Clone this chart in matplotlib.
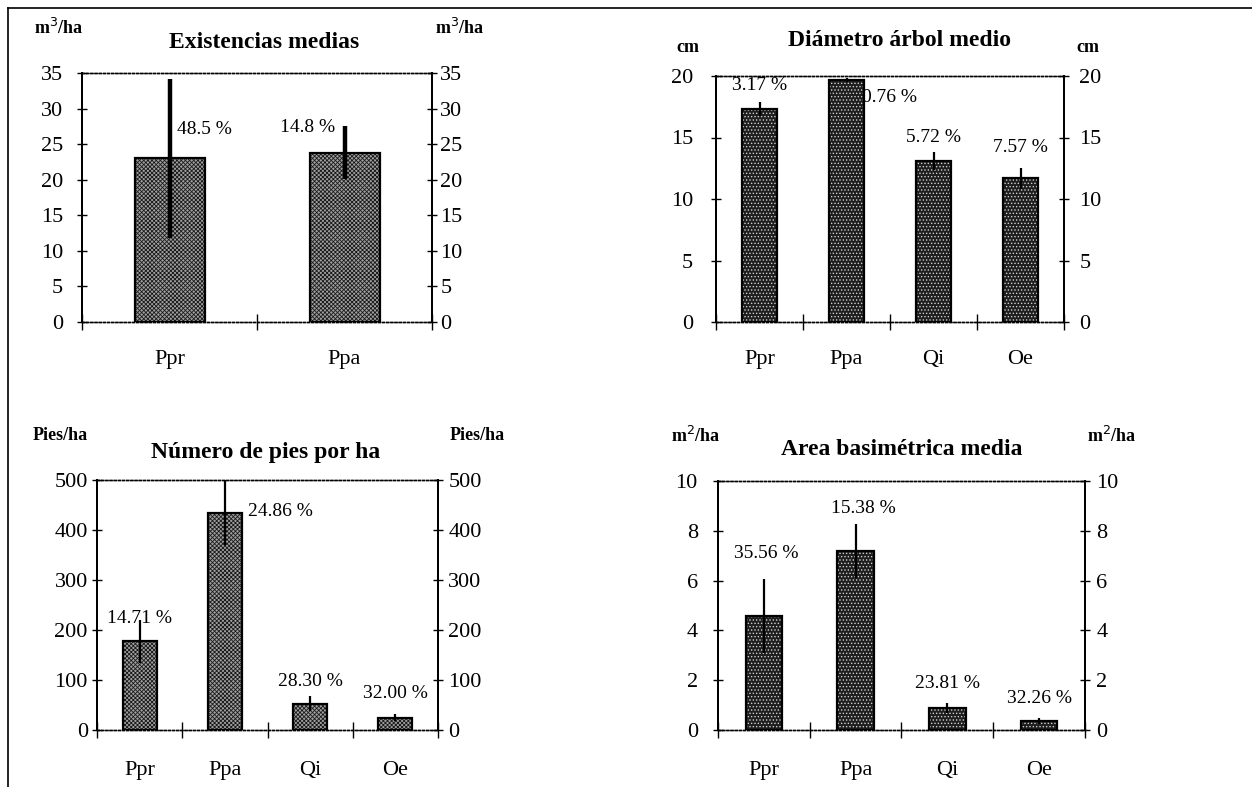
import matplotlib
matplotlib.use("Agg")
import matplotlib.pyplot as plt
from matplotlib.lines import Line2D
import numpy as np

plt.rcParams['font.family'] = ['Liberation Serif', 'DejaVu Serif']
plt.rcParams['hatch.linewidth'] = 0.6

# --- datos ---
esp2 = ['Ppr', 'Ppa']
esp4 = ['Ppr', 'Ppa', 'Qi', 'Oe']

exist = [23.0, 23.8]
exist_err = [11.2, 3.7]
exist_pct = ['48.5 %', '14.8 %']

diam = [17.3, 19.7, 13.1, 11.7]
diam_err = [0.55, 0.15, 0.75, 0.85]
diam_pct = ['3.17 %', '0.76 %', '5.72 %', '7.57 %']

pies = [178, 435, 53, 25]
pies_err = [43, 65, 15, 7]
pies_pct = ['14.71 %', '24.86 %', '28.30 %', '32.00 %']

area = [4.58, 7.19, 0.87, 0.36]
area_err = [1.5, 1.07, 0.2, 0.11]
area_pct = ['35.56 %', '15.38 %', '23.81 %', '32.26 %']

W, H = 1252, 787
fig = plt.figure(figsize=(W / 100, H / 100), dpi=100)


def px_axes(l, t, r, b):
    return fig.add_axes([l / W, 1 - b / H, (r - l) / W, (b - t) / H])


def panel(ax, cats, vals, errs, pcts, lab_pos, ymax, ystep, title, unit,
          style, elw, title_x, unit_l, unit_r, head_y, pads, xpad):
    x = np.arange(len(cats))
    if style == 'cross':
        ax.bar(x, vals, width=0.4, color='#a0a0a0', edgecolor='#1a1a1a',
               hatch='xxxxxxxx', linewidth=0, zorder=2)
    else:
        ax.bar(x, vals, width=0.4, color='#1e1e1e', edgecolor='#d0d0d0',
               hatch='.....', linewidth=0, zorder=2)
    ax.bar(x, vals, width=0.4, facecolor='none', edgecolor='black',
           linewidth=1.6, zorder=3)
    ax.errorbar(x, vals, yerr=errs, fmt='none', ecolor='black', elinewidth=elw,
                capsize=0, zorder=4)
    for (lx, ly), t in zip(lab_pos, pcts):
        ax.text(lx, ly, t, ha='center', va='center', fontsize=14, zorder=5)

    yt = np.arange(0, ymax + ystep / 2, ystep)
    ax.set_xlim(-0.5, len(cats) - 0.5)
    ax.set_ylim(0, ymax)
    ax.set_yticks(yt)
    ax.set_xticks(np.arange(-0.5, len(cats), 1.0))
    ax.set_xticklabels([])
    ax.set_xticks(x, minor=True)
    ax.set_xticklabels(cats, minor=True, fontsize=16)
    ax.tick_params(axis='x', which='minor', length=0, pad=xpad)
    ax.tick_params(axis='x', which='major', direction='inout', length=11, width=1)
    ax.tick_params(axis='y', direction='inout', length=7.5, width=1,
                   labelsize=16, pad=pads[0])

    # eje derecho con la misma escala
    axr = ax.twinx()
    axr.set_ylim(0, ymax)
    axr.set_yticks(yt)
    axr.tick_params(axis='y', direction='inout', length=7.5, width=1,
                    labelsize=16, pad=pads[1])

    for a in (ax, axr):
        for s in ['top', 'bottom']:
            a.spines[s].set_linestyle((0, (1.5, 1.5)))
            a.spines[s].set_linewidth(1.0)
        for s in ['left', 'right']:
            a.spines[s].set_linewidth(1.4)

    fig.text(title_x / W, 1 - head_y[0] / H, title, ha='center', va='center',
             fontsize=17, fontweight='bold')
    fig.text(unit_l / W, 1 - head_y[1] / H, unit, ha='center', va='center',
             fontsize=13, fontweight='bold')
    fig.text(unit_r / W, 1 - head_y[1] / H, unit, ha='center', va='center',
             fontsize=13, fontweight='bold')


ax1 = px_axes(82, 73, 432, 322)
panel(ax1, esp2, exist, exist_err, exist_pct,
      [(0.2, 27.1), (0.79, 27.4)], 35, 5,
      'Existencias medias', 'm$^3$/ha', 'cross', 3.2,
      264, 59, 460, (42, 28), (10, 2.2), 20)

ax2 = px_axes(716, 76, 1064, 322)
panel(ax2, esp4, diam, diam_err, diam_pct,
      [(0.0, 19.2), (1.5, 18.25), (2.0, 15.0), (3.0, 14.2)], 20, 5,
      'Diámetro árbol medio', 'cm', 'dot', 1.6,
      900, 688, 1088, (40, 47), (12.9, 7.2), 20)

ax3 = px_axes(97, 480, 438, 730)
panel(ax3, esp4, pies, pies_err, pies_pct,
      [(0.0, 223), (1.65, 437), (2.0, 97), (3.0, 72)], 500, 100,
      'Número de pies por ha', 'Pies/ha', 'cross', 1.6,
      266, 60, 477, (452, 436), (2.9, 3.6), 22)

ax4 = px_axes(718, 481, 1085, 730)
panel(ax4, esp4, area, area_err, area_pct,
      [(0.03, 7.1), (1.08, 8.88), (2.0, 1.87), (3.0, 1.27)], 10, 2,
      'Area basimétrica media', 'm$^2$/ha', 'dot', 1.6,
      902, 696, 1112, (450, 436), (10.8, 4.3), 22)

# marco exterior (solo arriba e izquierda)
fig.add_artist(Line2D([8 / W, 1], [1 - 8 / H, 1 - 8 / H], color='black', lw=1.2))
fig.add_artist(Line2D([8 / W, 8 / W], [1 - 8 / H, 0], color='black', lw=1.2))

fig.savefig('out.png', dpi=100)
